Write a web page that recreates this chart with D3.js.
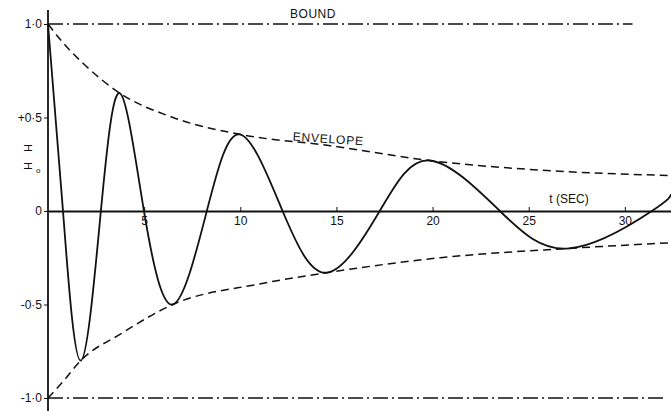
<!DOCTYPE html>
<html>
<head>
<meta charset="utf-8">
<script src="https://cdn.jsdelivr.net/npm/d3@7"></script>
<style>
  html, body { margin: 0; padding: 0; background: #fff; }
  svg { display: block; }
  text { font-family: "Liberation Sans", "DejaVu Sans", sans-serif; fill: #111; }
</style>
</head>
<body>
<svg id="chart" width="671" height="411"></svg>
<script>
// Damped oscillation of H/H0 against time (seconds)
const waveT = [0, 0.78, 1.70, 2.75, 3.74, 4.99, 6.49, 8.26, 9.97, 12.2, 14.5, 17.25, 19.84, 23.5, 27.1, 31.4, 32.4];
const waveH = [1.0, 0, -0.80, 0, 0.63, 0, -0.50, 0, 0.41, 0, -0.33, 0, 0.27, 0, -0.20, 0, 0.09];

// Upper and lower envelopes
const upperT = [0, 0.78, 1.82, 3.74, 6.5, 9.97, 14.6, 19.84, 27.1, 32.4];
const upperH = [1.0, 0.90, 0.79, 0.63, 0.50, 0.41, 0.35, 0.27, 0.21, 0.19];
const lowerT = [0, 0.8, 1.7, 3.74, 6.49, 11, 14.5, 20.4, 27.1, 32.4];
const lowerH = [-1.0, -0.91, -0.80, -0.66, -0.50, -0.39, -0.33, -0.25, -0.20, -0.17];

// Bounds at +1 and -1
const boundH = [1.0, -1.0];
const boundEndT = [30.4, 32.1];

// Tick values and their labels
const xTicks = [5, 10, 15, 20, 25, 30];
const yTicks = [1.0, 0.5, 0, -0.5, -1.0];
const yTickLabels = ["1·0", "+0·5", "0", "-0·5", "-1·0"];

const svg = d3.select("#chart");
const x = d3.scaleLinear().domain([0, 32.4]).range([48, 671]);
const y = d3.scaleLinear().domain([-1, 1]).range([398, 24]);

const ink = "#111";

// bound lines (dash-dot)
svg.append("g").selectAll("line").data(boundH).join("line")
  .attr("x1", x(0)).attr("x2", (d, i) => x(boundEndT[i]))
  .attr("y1", d => y(d)).attr("y2", d => y(d))
  .attr("stroke", ink).attr("stroke-width", 1.4)
  .attr("stroke-dasharray", "15,4,2,4");

// envelopes
const line = d3.line().x(d => x(d[0])).y(d => y(d[1])).curve(d3.curveMonotoneX);
svg.append("path")
  .attr("d", line(d3.zip(upperT, upperH)))
  .attr("fill", "none").attr("stroke", ink).attr("stroke-width", 1.5)
  .attr("stroke-dasharray", "8,5");
svg.append("path")
  .attr("d", line(d3.zip(lowerT, lowerH)))
  .attr("fill", "none").attr("stroke", ink).attr("stroke-width", 1.5)
  .attr("stroke-dasharray", "8,5");

// x axis
const xAxis = d3.axisBottom(x).tickValues(xTicks).tickSizeInner(-4).tickSizeOuter(0).tickPadding(5);
const gx = svg.append("g").attr("transform", `translate(0,${y(0)})`).call(xAxis);
gx.select(".domain").attr("stroke", ink).attr("stroke-width", 1.8);
gx.selectAll(".tick line").attr("stroke", ink);
gx.selectAll(".tick text").attr("font-size", 12).attr("font-family", "Liberation Sans, sans-serif").attr("fill", ink);

// y axis
const yAxis = d3.axisLeft(y).tickValues(yTicks).tickFormat((d, i) => yTickLabels[i]).tickSizeInner(4).tickSizeOuter(0).tickPadding(2);
const gy = svg.append("g").attr("transform", `translate(${x(0)},0)`).call(yAxis);
gy.select(".domain").remove();
gy.selectAll(".tick line").attr("stroke", ink);
gy.selectAll(".tick text").attr("font-size", 12).attr("font-family", "Liberation Sans, sans-serif").attr("fill", ink);
svg.append("line").attr("x1", x(0)).attr("x2", x(0)).attr("y1", 10).attr("y2", 411)
  .attr("stroke", ink).attr("stroke-width", 1.8);

// oscillation curve
const wave = d3.line().x(d => x(d[0])).y(d => y(d[1])).curve(d3.curveNatural);
svg.append("path")
  .attr("d", wave(d3.zip(waveT, waveH)))
  .attr("fill", "none").attr("stroke", ink).attr("stroke-width", 1.8);

// labels
svg.append("text").attr("x", 313).attr("y", 18).attr("text-anchor", "middle")
  .attr("font-size", 12).attr("letter-spacing", 0.5).text("BOUND");
svg.append("text").attr("transform", "translate(328,143) rotate(4)").attr("text-anchor", "middle")
  .attr("font-size", 12).attr("letter-spacing", 0.8).text("ENVELOPE");
svg.append("text").attr("x", 569).attr("y", 203).attr("text-anchor", "middle")
  .attr("font-size", 12).text("t (SEC)");

// y-axis title: H over H₀, glyphs turned on their side
const yt = svg.append("g");
yt.append("text").attr("transform", "translate(28,148) rotate(-90)").attr("text-anchor", "middle")
  .attr("dy", "0.35em").attr("font-size", 11).text("H");
yt.append("text").attr("transform", "translate(28,166) rotate(-90)").attr("text-anchor", "middle")
  .attr("dy", "0.35em").attr("font-size", 11).text("H");
yt.append("text").attr("x", 36).attr("y", 173).attr("font-size", 8).text("o");
</script>
</body>
</html>
